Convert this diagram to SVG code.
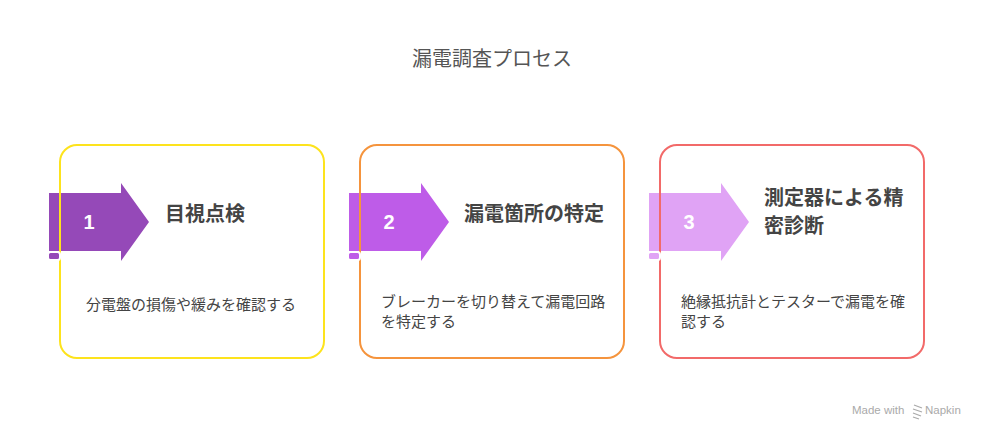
<svg xmlns="http://www.w3.org/2000/svg" width="984" height="439" viewBox="0 0 984 439">
<style>
text{font-family:"Noto Sans CJK JP","Liberation Sans",sans-serif;}
.title{font-size:20px;fill:#555;}
.head{font-size:20px;font-weight:bold;fill:#444;}
.desc{font-size:15px;fill:#444;}
.num{font-family:"Liberation Sans",sans-serif;font-size:20px;font-weight:bold;fill:#fff;}
.box{fill:none;stroke-width:2;}
.tab{stroke:#fff;stroke-width:2;}
.credit{font-family:"Liberation Sans",sans-serif;font-size:11.5px;fill:#aaa;}
</style>
<defs>
<path id="arrow" d="M49,193 H121 V183 L149,222 L121,261 V251 H49 Z"/>
</defs>
<rect width="984" height="439" fill="#fff"/>
<text class="title" x="492" y="66" text-anchor="middle">漏電調査プロセス</text>

<g id="step1">
<use href="#arrow" fill="#9549B8"/>
<rect class="box" x="60" y="145" width="264" height="213" rx="17" stroke="#FDE31D"/>
<rect class="tab" x="48" y="252" width="12" height="8" rx="2.5" fill="#9549B8"/>
<text class="num" x="89" y="229" text-anchor="middle">1</text>
<text class="head" x="165" y="221">目視点検</text>
<text class="desc" x="86" y="310">分電盤の損傷や緩みを確認する</text>
</g>

<g id="step2">
<use href="#arrow" x="300" fill="#BE5CE8"/>
<rect class="box" x="360" y="145" width="264" height="213" rx="17" stroke="#F5943D"/>
<rect class="tab" x="348" y="252" width="12" height="8" rx="2.5" fill="#BE5CE8"/>
<text class="num" x="389" y="229" text-anchor="middle">2</text>
<text class="head" x="464" y="221">漏電箇所の特定</text>
<text class="desc" x="381" y="307">ブレーカーを切り替えて漏電回路</text>
<text class="desc" x="381" y="327">を特定する</text>
</g>

<g id="step3">
<use href="#arrow" x="600" fill="#E0A3F5"/>
<rect class="box" x="660" y="145" width="264" height="213" rx="17" stroke="#F26A69"/>
<rect class="tab" x="648" y="252" width="12" height="8" rx="2.5" fill="#E0A3F5"/>
<text class="num" x="689" y="229" text-anchor="middle">3</text>
<text class="head" x="764" y="205">測定器による精</text>
<text class="head" x="764" y="233">密診断</text>
<text class="desc" x="681" y="307">絶縁抵抗計とテスターで漏電を確</text>
<text class="desc" x="681" y="327">認する</text>
</g>

<g id="connectors"></g>

<g id="credit">
<text class="credit" x="852" y="414">Made with</text>
<path d="M914,405 l8,3 M913,409 l9,3 M913,413 l8,3 M913,417 l6,2" stroke="#aaa" stroke-width="1.3" fill="none"/>
<text class="credit" x="925" y="414">Napkin</text>
</g>
</svg>
